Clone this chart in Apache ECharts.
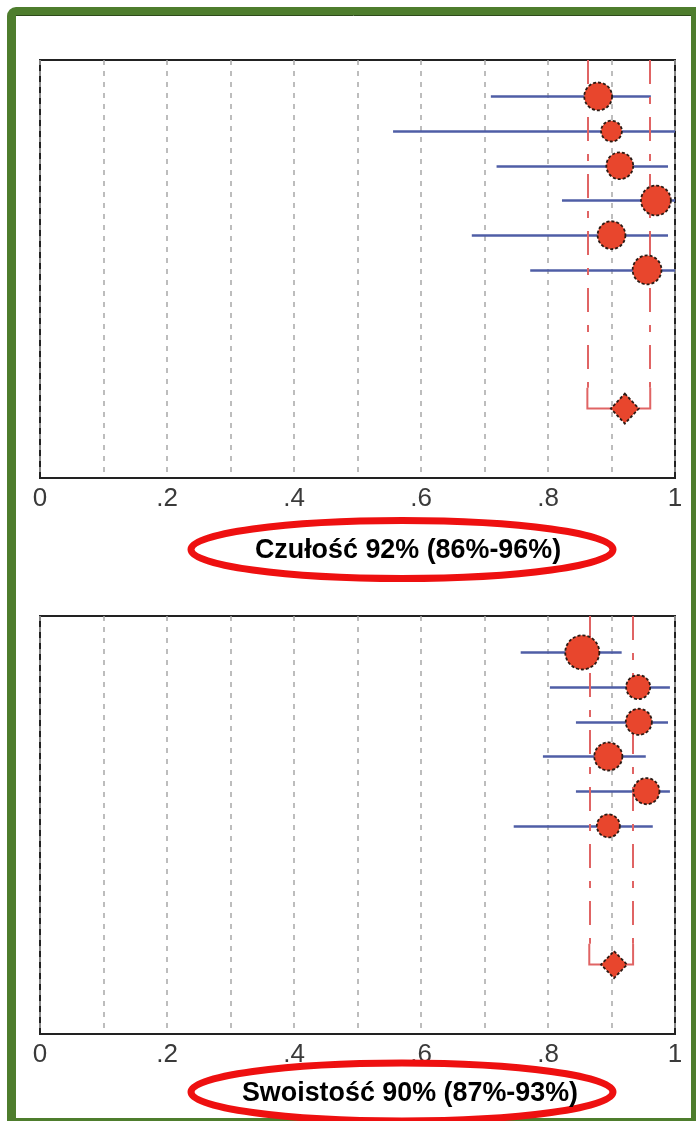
<!DOCTYPE html>
<html>
<head>
<meta charset="utf-8">
<script src="https://cdn.jsdelivr.net/npm/echarts@6/dist/echarts.min.js"></script>
<style>
html,body{margin:0;padding:0;background:#fff;}
#chart{width:696px;height:1121px;}
</style>
</head>
<body>
<div id="chart"></div>
<script>
// ---- data ----
const tickValues = [0, 0.2, 0.4, 0.6, 0.8, 1];
const tickLabels = ['0', '.2', '.4', '.6', '.8', '1'];

// Sensitivity (top panel)
const sensEst    = [0.879, 0.900, 0.913, 0.970, 0.900, 0.956];
const sensLo     = [0.710, 0.556, 0.719, 0.822, 0.680, 0.772];
const sensHi     = [0.962, 1.000, 0.989, 1.000, 0.989, 1.000];
const sensWeight = [17.5, 9.8, 16.3, 20.1, 17.5, 18.8];
const sensPooled = [0.921, 0.862, 0.961]; // estimate, lo, hi
const sensTitle  = 'Czułość 92% (86%-96%)';

// Specificity (bottom panel)
const specEst    = [0.854, 0.942, 0.943, 0.895, 0.955, 0.895];
const specLo     = [0.757, 0.803, 0.844, 0.792, 0.844, 0.746];
const specHi     = [0.916, 0.992, 0.989, 0.954, 0.992, 0.965];
const specWeight = [26.3, 13.1, 15.4, 17.8, 15.4, 12.0];
const specPooled = [0.904, 0.865, 0.934];
const specTitle  = 'Swoistość 90% (87%-93%)';

// ---- styles ----
const BLUE = '#4f5ea6';
const RED_FILL = '#e8462d';
const RED_LINE = '#e06464';
const GREEN = '#4e7d2d';
const POOLED_ROW = 10;
const BRACKET_START = 9.4;
const Y_MIN = -0.05, Y_MAX = 12;

const chart = echarts.init(document.getElementById('chart'), null, {renderer: 'canvas'});

function xAxisFor(idx) {
  return {
    gridIndex: idx, type: 'value', min: 0, max: 1, interval: 0.1,
    axisLine: {show: false}, axisTick: {show: false},
    axisLabel: {
      show: true, margin: 8, color: '#3a3a3a', fontSize: 26,
      fontFamily: '"Liberation Sans", Arial, sans-serif',
      formatter: function (v) {
        for (let i = 0; i < tickValues.length; i++) {
          if (Math.abs(v - tickValues[i]) < 1e-6) return tickLabels[i];
        }
        return '';
      }
    },
    splitLine: {show: true, lineStyle: {color: '#a8a8a8', width: 1.5, type: [5, 6]}}
  };
}
function yAxisFor(idx) {
  return {
    gridIndex: idx, type: 'value', min: Y_MIN, max: Y_MAX, inverse: true,
    axisLine: {show: false}, axisTick: {show: false}, axisLabel: {show: false}, splitLine: {show: false}
  };
}

function panelSeries(idx, est, lo, hi, w, pooled, diamondSize, sizeK) {
  const ci = est.map((e, i) => ({coords: [[lo[i], i + 1], [hi[i], i + 1]]}));
  const pts = est.map((e, i) => [e, i + 1, w[i]]);
  return [
    {
      type: 'lines', coordinateSystem: 'cartesian2d', xAxisIndex: idx, yAxisIndex: idx,
      data: ci, lineStyle: {color: BLUE, width: 2.5, opacity: 1}, z: 3, silent: true
    },
    {
      type: 'lines', coordinateSystem: 'cartesian2d', xAxisIndex: idx, yAxisIndex: idx,
      data: [
        {coords: [[pooled[1], Y_MIN], [pooled[1], BRACKET_START]]},
        {coords: [[pooled[2], Y_MIN], [pooled[2], BRACKET_START]]}
      ],
      lineStyle: {color: RED_LINE, width: 2, type: [24, 13, 7, 13], opacity: 1}, z: 4, silent: true
    },
    {
      type: 'lines', coordinateSystem: 'cartesian2d', xAxisIndex: idx, yAxisIndex: idx, polyline: true,
      data: [{coords: [[pooled[1], BRACKET_START], [pooled[1], POOLED_ROW], [pooled[2], POOLED_ROW], [pooled[2], BRACKET_START]]}],
      lineStyle: {color: RED_LINE, width: 2, opacity: 1}, z: 4, silent: true
    },
    {
      type: 'scatter', xAxisIndex: idx, yAxisIndex: idx, data: pts,
      symbol: 'circle', symbolSize: v => sizeK * Math.sqrt(v[2]),
      itemStyle: {color: RED_FILL, borderColor: '#2b1a14', borderWidth: 1.8, borderType: [3, 2], opacity: 1},
      z: 5, silent: true
    },
    {
      type: 'scatter', xAxisIndex: idx, yAxisIndex: idx, data: [[pooled[0], POOLED_ROW]],
      symbol: 'diamond', symbolSize: diamondSize,
      itemStyle: {color: RED_FILL, borderColor: '#2b1a14', borderWidth: 1.8, borderType: [3, 2], opacity: 1},
      z: 6, silent: true
    }
  ];
}

function ellipseLabel(cx, cy, textCx, text) {
  return [
    {
      type: 'ellipse', z: 100,
      shape: {cx: cx, cy: cy, rx: 211, ry: 29},
      style: {fill: '#fff', stroke: '#ee1010', lineWidth: 7}
    },
    {
      type: 'text', z: 101, x: textCx, y: cy + 1, scaleX: 0.96,
      style: {
        text: text, x: 0, y: 0, align: 'center', verticalAlign: 'middle',
        font: 'bold 28px "Liberation Sans", Arial, sans-serif',
        fill: '#000'
      }
    }
  ];
}

const option = {
  backgroundColor: '#fff',
  animation: false,
  grid: [
    {left: 40, top: 60, width: 635, height: 418, show: true, backgroundColor: '#fff', borderColor: '#222', borderWidth: 2},
    {left: 40, top: 616, width: 635, height: 418, show: true, backgroundColor: '#fff', borderColor: '#222', borderWidth: 2}
  ],
  xAxis: [xAxisFor(0), xAxisFor(1)],
  yAxis: [yAxisFor(0), yAxisFor(1)],
  series: [].concat(
    panelSeries(0, sensEst, sensLo, sensHi, sensWeight, sensPooled, [28, 30], 6.65),
    panelSeries(1, specEst, specLo, specHi, specWeight, specPooled, [26, 27], 6.65)
  ),
  graphic: {
    elements: [
      {type: 'rect', z: -10, shape: {x: 7, y: 7, width: 689, height: 1114, r: [9, 0, 0, 0]}, style: {fill: GREEN}},
      {type: 'rect', z: -9, shape: {x: 16, y: 15, width: 675, height: 1103}, style: {fill: '#fff'}},
      {type: 'line', z: -8, shape: {x1: 16, y1: 15.5, x2: 691, y2: 15.5}, style: {stroke: '#2d4a1a', lineWidth: 1}}
    ].concat(
      ellipseLabel(402, 549.5, 408, sensTitle),
      ellipseLabel(402, 1092, 410, specTitle)
    )
  }
};
chart.setOption(option);
</script>
</body>
</html>
